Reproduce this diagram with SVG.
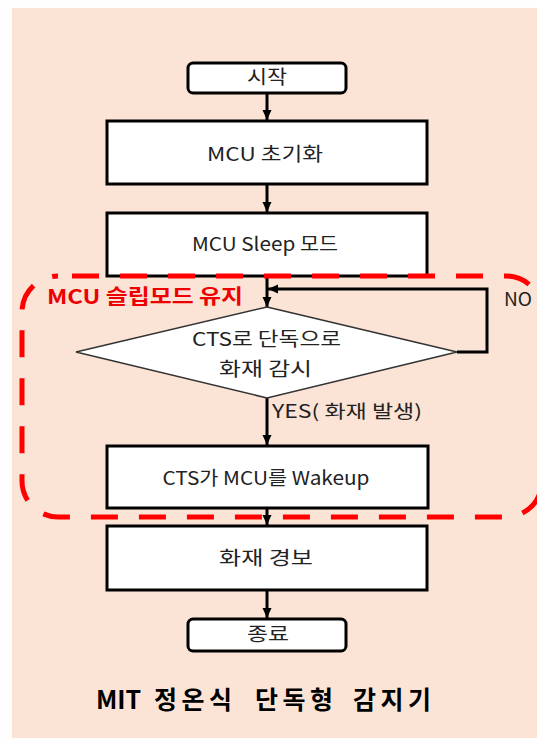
<svg xmlns="http://www.w3.org/2000/svg" width="537" height="738" viewBox="0 0 537 738">
  <defs>
    <marker id="arr" markerUnits="userSpaceOnUse" markerWidth="10" markerHeight="10" refX="10" refY="5" orient="auto">
      <path d="M0,0.5 L10,5 L0,9.5 z" fill="#000"/>
    </marker>
    <style>
      .box { fill: #fff; stroke: #000; stroke-width: 3; }
      .term { fill: #fff; stroke: #000; stroke-width: 3; }
      .dia { fill: #fff; stroke: #333; stroke-width: 1.5; }
      .conn { fill: none; stroke: #000; stroke-width: 3; }
      .t { font-family: "Noto Sans CJK KR", "Noto Sans", sans-serif; font-size: 19px; fill: #222; text-anchor: middle; }
      .lbl { font-family: "Noto Sans CJK KR", "Noto Sans", sans-serif; font-size: 18px; fill: #222; }
      .red { font-family: "Noto Sans CJK KR", "Noto Sans", sans-serif; font-size: 20px; font-weight: bold; fill: #ee0000; }
      .title { font-family: "Noto Sans CJK KR", "Noto Sans", sans-serif; font-size: 25px; font-weight: bold; fill: #000; }
      .hw { letter-spacing: 4.5px; }
    </style>
  </defs>
  <rect x="0" y="0" width="537" height="738" fill="#fefefe"/>
  <rect x="12" y="8" width="525" height="730" fill="#fbe4d6"/>

  <g id="connectors">
    <line class="conn" x1="267" y1="93" x2="267" y2="120" marker-end="url(#arr)"/>
    <line class="conn" x1="267" y1="184" x2="267" y2="212" marker-end="url(#arr)"/>
    <line class="conn" x1="267" y1="276" x2="267" y2="307" marker-end="url(#arr)"/>
    <polyline class="conn" points="457,352 487,352 487,289 268,289" marker-end="url(#arr)"/>
    <line class="conn" x1="267" y1="398" x2="267" y2="445" marker-end="url(#arr)"/>
    <line class="conn" x1="267" y1="508" x2="267" y2="525" marker-end="url(#arr)"/>
    <line class="conn" x1="267" y1="590" x2="267" y2="618" marker-end="url(#arr)"/>
    <text class="lbl" x="504" y="306" textLength="28" lengthAdjust="spacingAndGlyphs">NO</text>
    <text class="lbl" x="272" y="418" textLength="150" lengthAdjust="spacingAndGlyphs">YES( 화재 발생)</text>
  </g>

  <g id="start">
    <rect class="term" x="188" y="63" width="158" height="30" rx="5"/>
    <text class="t" x="267" y="84" textLength="40" lengthAdjust="spacingAndGlyphs">시작</text>
  </g>
  <g id="init">
    <rect class="box" x="107" y="121" width="320" height="63"/>
    <text class="t" x="265" y="161" textLength="116" lengthAdjust="spacingAndGlyphs">MCU 초기화</text>
  </g>
  <g id="sleep">
    <rect class="box" x="107" y="213" width="320" height="63"/>
    <text class="t" x="265" y="251" textLength="146" lengthAdjust="spacingAndGlyphs">MCU Sleep 모드</text>
  </g>
  <g id="monitor">
    <polygon class="dia" points="267,307 457,352 267,398 76,352"/>
    <text class="t" x="266.5" y="346" textLength="149" lengthAdjust="spacingAndGlyphs">CTS로 단독으로</text>
    <text class="t" x="265.5" y="376" textLength="93" lengthAdjust="spacingAndGlyphs">화재 감시</text>
  </g>
  <g id="wakeup">
    <rect class="box" x="107" y="446" width="321" height="62"/>
    <text class="t" x="266" y="485" textLength="207" lengthAdjust="spacingAndGlyphs">CTS가 MCU를 Wakeup</text>
  </g>
  <g id="alarm">
    <rect class="box" x="107" y="526" width="320" height="64"/>
    <text class="t" x="266" y="565" textLength="94" lengthAdjust="spacingAndGlyphs">화재 경보</text>
  </g>
  <g id="end">
    <rect class="term" x="188" y="619" width="158" height="32" rx="5"/>
    <text class="t" x="268" y="641" textLength="42" lengthAdjust="spacingAndGlyphs">종료</text>
  </g>

  <g id="sleep-zone">
    <rect x="22" y="276" width="520" height="241" rx="36" fill="none" stroke="#ff0000" stroke-width="5" stroke-dasharray="27 21" stroke-dashoffset="34"/>
    <text class="red" x="47" y="304" textLength="196" lengthAdjust="spacingAndGlyphs">MCU 슬립모드 유지</text>
  </g>

  <g id="caption">
    <text class="title" y="709"><tspan x="96">MIT</tspan> <tspan class="hw" x="154">정온식</tspan> <tspan class="hw" x="255">단독형</tspan> <tspan class="hw" x="353">감지기</tspan></text>
  </g>
</svg>
